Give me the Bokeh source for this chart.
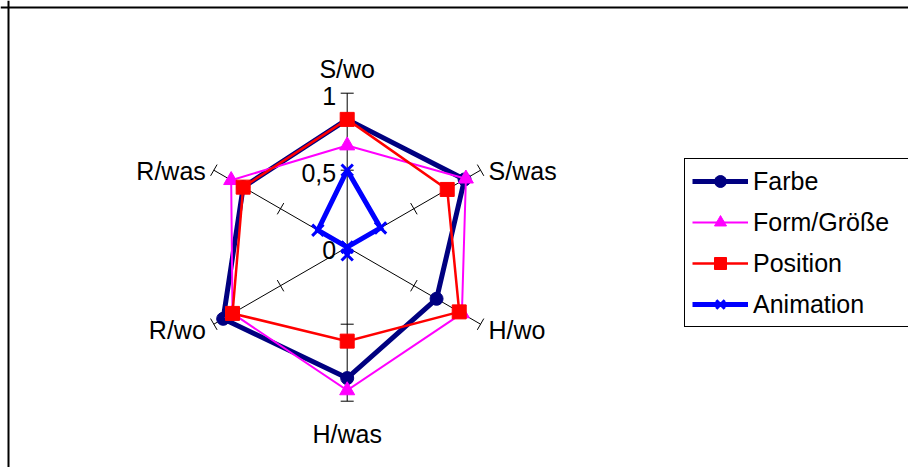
import numpy as np
from bokeh.plotting import figure
from bokeh.models import Range1d, Legend, LegendItem, Span, ColumnDataSource
from bokeh.core.properties import value
from bokeh.embed import file_html
from bokeh.resources import INLINE

# ---------------- data ----------------
categories = ["S/wo", "S/was", "H/wo", "H/was", "R/wo", "R/was"]
farbe = [0.83, 0.88, 0.67, 0.85, 0.93, 0.78]
form_groesse = [0.66, 0.89, 0.86, 0.93, 0.86, 0.87]
position = [0.83, 0.75, 0.84, 0.61, 0.86, 0.78]
animation = [0.50, 0.25, 0.00, 0.05, 0.00, 0.22]
series_names = ["Farbe", "Form/Größe", "Position", "Animation"]
tick_values = [0.0, 0.5, 1.0]
tick_labels = ["0", "0,5", "1"]

# ---------------- layout ----------------
W, H = 908, 467
UNIT = 154.0           # pixels per value unit
CX, CY = 346.7, 246.7  # centre in frame pixels (from top-left)
FONT = "Liberation Sans"
FS = "25px"

p = figure(width=W, height=H, output_backend="svg", toolbar_location=None,
           x_axis_type=None, y_axis_type=None, min_border=0,
           x_range=Range1d(-CX / UNIT, (W - CX) / UNIT),
           y_range=Range1d(-(H - CY) / UNIT, CY / UNIT))
p.grid.visible = False
p.outline_line_color = None
p.background_fill_color = "white"
p.border_fill_color = "white"

# chart-area border (left and top edges visible)
p.add_layout(Span(location=(8 - CX) / UNIT, dimension="height", line_color="black", line_width=2))
p.add_layout(Span(location=(CY - 7) / UNIT, dimension="width", line_color="black", line_width=2))

n = len(categories)
ang = np.pi / 2 - 2 * np.pi * np.arange(n) / n
ca, sa = np.cos(ang), np.sin(ang)

# spokes
p.segment(x0=np.zeros(n), y0=np.zeros(n), x1=ca, y1=sa, line_color="black", line_width=1)

# tick marks at 0.5 and 1 on every spoke
h = 6.5 / UNIT
tx0, ty0, tx1, ty1 = [], [], [], []
for tv in tick_values[1:]:
    for c, s in zip(ca, sa):
        px, py = tv * c, tv * s
        tx0.append(px - s * h); ty0.append(py + c * h)
        tx1.append(px + s * h); ty1.append(py - c * h)
p.segment(x0=tx0, y0=ty0, x1=tx1, y1=ty1, line_color="black", line_width=1)

# tick labels on the top spoke
p.text(x=[0.0] * len(tick_values), y=tick_values, text=tick_labels,
       x_offset=-11, y_offset=3, text_align="right", text_baseline="middle",
       text_font=value(FONT), text_font_size=value(FS), text_color="black")

# category labels
lab_xoff = [0, 8, 8, 0, -8, -8]
lab_yoff = [-24, 1, 6, 33, 6, 1]
lab_align = ["center", "left", "left", "center", "right", "right"]
src_lab = ColumnDataSource(dict(x=ca, y=sa, t=categories, xo=lab_xoff, yo=lab_yoff, al=lab_align))
p.text(x="x", y="y", text="t", x_offset="xo", y_offset="yo", text_align="al",
       text_baseline="middle", text_font=value(FONT), text_font_size=value(FS),
       text_color="black", source=src_lab)

# series
styles = [
    dict(color="#000080", lw=5, marker="circle", size=13),
    dict(color="#FF00FF", lw=2, marker="triangle", size=15),
    dict(color="#FF0000", lw=2.5, marker="square", size=14),
    dict(color="#0000FF", lw=5, marker="x", size=16),
]
items = []
for name, vals, st in zip(series_names, [farbe, form_groesse, position, animation], styles):
    v = np.array(vals)
    xs, ys = v * ca, v * sa
    lr = p.line(np.append(xs, xs[0]), np.append(ys, ys[0]), line_color=st["color"],
                line_width=st["lw"], line_join="miter")
    if st["marker"] == "x":
        sr = p.scatter(xs, ys, marker="x", size=st["size"], line_color=st["color"], line_width=3)
    else:
        sr = p.scatter(xs, ys, marker=st["marker"], size=st["size"], fill_color=st["color"],
                       line_color=st["color"])
    items.append(LegendItem(label=name, renderers=[lr, sr]))

legend = Legend(items=items, location=(684, H - 327), border_line_color="black",
                border_line_width=1, border_line_alpha=1, background_fill_color="white",
                background_fill_alpha=1, label_text_font=FONT, label_text_font_size=FS,
                label_text_color="black",
                glyph_width=56, glyph_height=30, label_height=30, spacing=11, padding=7,
                margin=0, label_standoff=5, label_width=148)
p.add_layout(legend)

open("out.html", "w").write(file_html(p, INLINE))
